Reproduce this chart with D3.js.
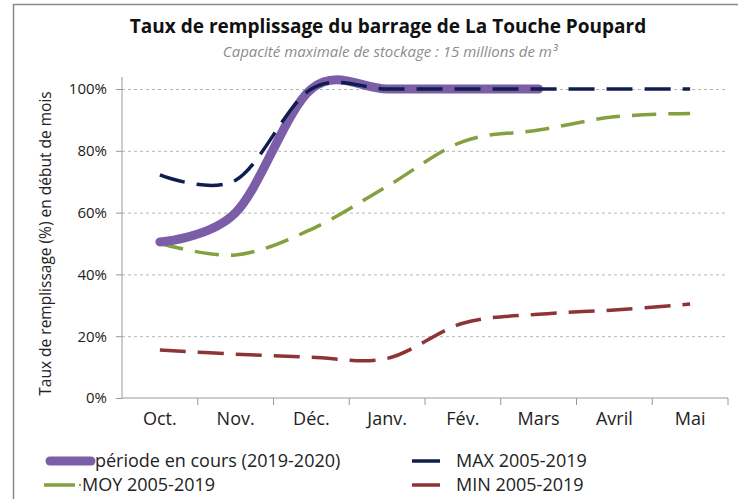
<!DOCTYPE html>
<html><head><meta charset="utf-8">
<script src="https://cdn.jsdelivr.net/npm/d3@7"></script>
<style>
body{margin:0;background:#fff;}
svg{display:block;font-family:"Open Sans",sans-serif;}
</style></head>
<body><svg id="c" width="738" height="499"></svg>
<script>
const months = ["Oct.","Nov.","Déc.","Janv.","Fév.","Mars","Avril","Mai"];
const current = [0.505, 0.60, 1.00, 1.00, 1.00, 1.00];
const maxV = [0.722, 0.705, 1.00, 1.00, 1.00, 1.00, 1.00, 1.00];
const moyV = [0.50, 0.463, 0.546, 0.685, 0.83, 0.867, 0.91, 0.921];
const minV = [0.155, 0.142, 0.132, 0.128, 0.242, 0.271, 0.285, 0.304];
const yTicks = [0, 0.2, 0.4, 0.6, 0.8, 1.0];
const title = "Taux de remplissage du barrage de La Touche Poupard";
const subtitle = "Capacité maximale de stockage : 15 millions de m³";
const yTitle = "Taux de remplissage (%) en début de mois";
const legendItems = [
  {name:"période en cours (2019-2020)", key:"cur"},
  {name:"MAX 2005-2019", key:"max"},
  {name:"MOY 2005-2019", key:"moy"},
  {name:"MIN 2005-2019", key:"min"}
];

const colors = {cur:"#7b5ea7", max:"#0f1e4d", moy:"#84a03f", min:"#8f3436"};
const svg = d3.select("#c");
const L = 122, R = 728, T = 89, B = 398;
const x = d3.scaleBand().domain(months).range([L, R]).padding(0);
const y = d3.scaleLinear().domain([0, 1]).range([B, T]);
const cx = d => x(d) + x.bandwidth()/2;

// frame
svg.append("path").attr("d", `M13.5,499 V4.5 H738`).attr("fill","none").attr("stroke","#8a8a8a").attr("stroke-width",1.5);

// title
svg.append("text").attr("x", 388).attr("y", 33).attr("text-anchor","middle")
  .attr("font-size", 19).attr("font-weight", "bold").attr("fill","#111").text(title);
svg.append("text").attr("x", 390).attr("y", 57).attr("text-anchor","middle")
  .attr("font-size", 15).attr("font-style","italic").attr("fill","#8c8c8c").text(subtitle);

// gridlines
const grid = svg.append("g").attr("transform", `translate(${L},0)`)
  .call(d3.axisLeft(y).tickValues(yTicks.filter(v=>v>0)).tickSize(-(R-L)).tickFormat(""));
grid.select(".domain").remove();
grid.selectAll("line").attr("stroke","#b5b5b5").attr("stroke-dasharray","3,3");

// y axis
const ya = svg.append("g").attr("transform", `translate(${L},0)`)
  .call(d3.axisLeft(y).tickValues(yTicks).tickFormat(d3.format(".0%")).tickSize(6).tickPadding(9));
ya.select(".domain").attr("stroke","#9a9a9a").attr("d", `M0,${B}V${T-12}`);
ya.selectAll("line").attr("stroke","#9a9a9a");
ya.selectAll("text").attr("font-size", 15).attr("fill","#222").attr("font-family","Open Sans");

// x axis
const xa = svg.append("g").attr("transform", `translate(0,${B})`)
  .call(d3.axisBottom(x).tickSize(0).tickPadding(14));
xa.select(".domain").attr("stroke","#9a9a9a").attr("d", `M${L},0H${R}`);
xa.selectAll("text").attr("font-size", 18).attr("fill","#222").attr("font-family","Open Sans");
xa.selectAll(".bt").data(months).enter().append("line")
  .attr("x1", d => x(d)+x.bandwidth()).attr("x2", d => x(d)+x.bandwidth())
  .attr("y1", 0).attr("y2", 7).attr("stroke","#9a9a9a");

// y title
svg.append("text").attr("transform", `translate(51,${(T+B)/2}) rotate(-90)`)
  .attr("text-anchor","middle").attr("font-size", 15.5).attr("fill","#222").text(yTitle);

const line = d3.line().x((d,i) => cx(months[i])).y(d => y(d)).curve(d3.curveCardinal.tension(0));

svg.append("path").datum(minV).attr("d", line).attr("fill","none")
  .attr("stroke", colors.min).attr("stroke-width", 3.5).attr("stroke-dasharray","26,12");
svg.append("path").datum(moyV).attr("d", line).attr("fill","none")
  .attr("stroke", colors.moy).attr("stroke-width", 3.5).attr("stroke-dasharray","24,12");
svg.append("path").datum(current).attr("d", line).attr("fill","none")
  .attr("stroke", colors.cur).attr("stroke-width", 9).attr("stroke-linecap","round").attr("stroke-linejoin","round");
svg.append("path").datum(maxV).attr("d", line).attr("fill","none")
  .attr("stroke", colors.max).attr("stroke-width", 3.5).attr("stroke-dasharray","26,12");

// legend
const lg = svg.append("g").attr("font-size", 18).attr("fill","#222");
const pos = [
  {lx1:50, lx2:91, tx:95, y:461},
  {lx1:412, lx2:440, tx:456, y:461},
  {lx1:44, lx2:75, tx:82, y:485},
  {lx1:412, lx2:440, tx:456, y:485}
];
legendItems.forEach((it, i) => {
  const p = pos[i];
  lg.append("line").attr("x1", p.lx1).attr("x2", p.lx2).attr("y1", p.y).attr("y2", p.y)
    .attr("stroke", colors[it.key]).attr("stroke-width", it.key==="cur" ? 9 : 3.5)
    .attr("stroke-linecap", it.key==="cur" ? "round" : "butt");
  if (it.key === "moy") {
    lg.append("rect").attr("x", 79).attr("y", p.y - 1).attr("width", 2).attr("height", 2).attr("fill", colors.moy);
  }
  lg.append("text").attr("x", p.tx).attr("y", p.y).attr("dy","0.35em").text(it.name);
});
</script></body></html>
